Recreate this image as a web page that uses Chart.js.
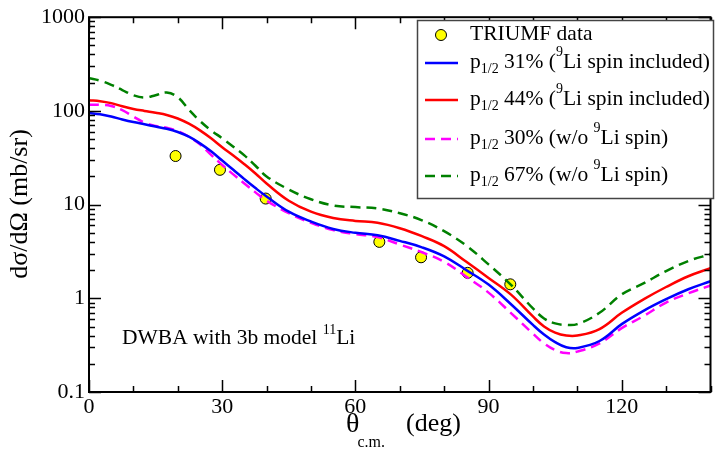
<!DOCTYPE html>
<html>
<head>
<meta charset="utf-8">
<script src="https://cdn.jsdelivr.net/npm/chart.js@4"></script>
<style>
  body { margin: 0; background: #fff; }
  #wrap { width: 717px; height: 450px; }
</style>
</head>
<body>
<div id="wrap"><canvas id="xsChart" width="717" height="450"></canvas></div>
<script>
// scattering angle (deg) shared by all the calculated curves
const angles = [0, 2.5, 5, 7.5, 10, 12.5, 15, 17.5, 20, 22.5, 25, 27.5, 30, 32.5, 35, 37.5, 40,
  45, 50, 55, 60, 65, 70, 75, 80, 85, 90, 95, 100, 102.5, 105, 107.5, 110, 115, 120, 125, 130, 135, 140];

// cross sections (mb/sr)
const p31spin = [95, 92, 87, 81, 76, 72, 68, 64.5, 59.5, 53, 45, 37, 29.5, 23.5, 18.7, 15, 12.2,
  8.4, 6.6, 5.5, 5.0, 4.7, 4.1, 3.5, 2.8, 2.0, 1.4, 0.87, 0.52, 0.41, 0.34, 0.30, 0.295, 0.35, 0.53, 0.74, 0.98, 1.25, 1.52];
const p44spin = [130, 127, 121, 112, 105, 100, 95.5, 90.5, 83, 73, 62, 51, 41, 33.5, 27, 21.5, 16.8,
  11, 8.4, 7.2, 6.7, 6.4, 5.6, 4.6, 3.6, 2.45, 1.65, 1.1, 0.64, 0.5, 0.43, 0.40, 0.40, 0.47, 0.7, 0.98, 1.32, 1.72, 2.1];
const p30nospin = [116, 116, 113, 102, 87, 75, 69, 66, 61, 53, 44, 34, 26.5, 21, 16.8, 13.5, 11,
  8.1, 6.4, 5.35, 4.85, 4.5, 3.75, 3.1, 2.45, 1.7, 1.15, 0.7, 0.42, 0.33, 0.28, 0.26, 0.27, 0.33, 0.48, 0.65, 0.9, 1.13, 1.37];
const p67nospin = [223, 210, 190, 167, 147, 139, 147, 157, 140, 103, 78, 62, 51, 41.5, 33.5, 26, 20,
  14.5, 11.4, 9.8, 9.4, 9.1, 8.1, 6.8, 5.2, 3.65, 2.3, 1.4, 0.78, 0.61, 0.54, 0.52, 0.53, 0.7, 1.1, 1.45, 1.95, 2.5, 2.95];

// TRIUMF data
const dataTheta = [19.5, 29.5, 39.8, 65.4, 74.8, 85.3, 94.9];
const dataXs = [33, 23.5, 11.6, 4.0, 2.74, 1.87, 1.41];

const xTicks = [0, 30, 60, 90, 120];
const yTicks = [0.1, 1, 10, 100, 1000];

const serif = '"Liberation Serif", "DejaVu Serif", serif';

function pts(xs, ys) {
  return xs.map((x, i) => ({ x: x, y: ys[i] }));
}

function curve(label, values, color, dash) {
  return {
    label: label,
    data: pts(angles, values),
    borderColor: color,
    backgroundColor: color,
    borderWidth: 2.5,
    borderDash: dash,
    pointRadius: 0,
    tension: 0.4,
    fill: false,
    order: 1
  };
}

// draws text pieces with sub/superscripts, returns end x
function richText(ctx, x, y, parts, size) {
  const small = Math.round(size * 0.66);
  parts.forEach(p => {
    let fs = size, dy = 0;
    if (p.sub) { fs = small; dy = size * 0.35; }
    if (p.sup) { fs = small; dy = -size * 0.45; }
    ctx.font = fs + 'px ' + serif;
    ctx.fillText(p.t, x, y + dy);
    x += ctx.measureText(p.t).width;
  });
  return x;
}

const frame = {
  id: 'frame',
  afterDraw(chart) {
    const ctx = chart.ctx;
    const a = chart.chartArea;
    const xs = chart.scales.x, ys = chart.scales.y;
    ctx.save();
    ctx.strokeStyle = '#000';
    ctx.fillStyle = '#000';

    // minor / major ticks on all four sides
    ctx.lineWidth = 1.5;
    ctx.beginPath();
    for (let v = 0; v <= 140; v += 10) {
      const px = Math.round(xs.getPixelForValue(v)) + 0.5;
      const len = v % 30 === 0 ? 12 : 6;
      ctx.moveTo(px, a.bottom); ctx.lineTo(px, a.bottom - len);
      ctx.moveTo(px, a.top); ctx.lineTo(px, a.top + len);
    }
    for (let d = -1; d <= 3; d++) {
      for (let m = 1; m <= 9; m++) {
        if (d === 3 && m > 1) break;
        const py = Math.round(ys.getPixelForValue(m * Math.pow(10, d))) + 0.5;
        const len = m === 1 ? 12 : 6;
        ctx.moveTo(a.left, py); ctx.lineTo(a.left + len, py);
        ctx.moveTo(a.right, py); ctx.lineTo(a.right - len, py);
      }
    }
    ctx.stroke();

    ctx.lineWidth = 2;
    ctx.strokeRect(a.left, a.top, a.right - a.left, a.bottom - a.top);

    // legend
    const lx = 417, ly = 20, lw = 296, lh = 178;
    ctx.fillStyle = '#fff';
    ctx.fillRect(lx, ly, lw, lh);
    ctx.lineWidth = 1.5;
    ctx.strokeStyle = '#444';
    ctx.strokeRect(lx + 0.5, ly + 0.5, lw, lh);

    const rows = [
      { y: 35, parts: [{ t: 'TRIUMF data' }] },
      { y: 63, parts: [{ t: 'p' }, { t: '1/2', sub: true }, { t: ' 31% (' }, { t: '9', sup: true }, { t: 'Li spin included)' }] },
      { y: 100, parts: [{ t: 'p' }, { t: '1/2', sub: true }, { t: ' 44% (' }, { t: '9', sup: true }, { t: 'Li spin included)' }] },
      { y: 139, parts: [{ t: 'p' }, { t: '1/2', sub: true }, { t: ' 30% (w/o ' }, { t: '9', sup: true }, { t: 'Li spin)' }] },
      { y: 176, parts: [{ t: 'p' }, { t: '1/2', sub: true }, { t: ' 67% (w/o ' }, { t: '9', sup: true }, { t: 'Li spin)' }] }
    ];
    const sets = chart.data.datasets;
    ctx.textBaseline = 'middle';
    ctx.textAlign = 'left';
    rows.forEach((r, i) => {
      const ds = sets[i];
      if (i === 0) {
        ctx.beginPath();
        ctx.arc(441, r.y, 5.5, 0, Math.PI * 2);
        ctx.fillStyle = ds.backgroundColor;
        ctx.fill();
        ctx.lineWidth = 1;
        ctx.strokeStyle = '#000';
        ctx.stroke();
      } else {
        ctx.beginPath();
        ctx.setLineDash(ds.borderDash || []);
        ctx.lineWidth = 2.5;
        ctx.strokeStyle = ds.borderColor;
        ctx.moveTo(425, r.y); ctx.lineTo(458, r.y);
        ctx.stroke();
        ctx.setLineDash([]);
      }
      ctx.fillStyle = '#000';
      richText(ctx, 470, r.y - 1, r.parts, 21.5);
    });

    // annotation
    ctx.textBaseline = 'alphabetic';
    richText(ctx, 122, 344, [{ t: 'DWBA with 3b model ' }, { t: '11', sup: true }, { t: 'Li' }], 21.5);

    // axis titles
    let x = richText(ctx, 346, 432, [{ t: 'θ' }], 28);
    ctx.font = '16px ' + serif;
    ctx.fillText('c.m.', x - 2, 447);
    ctx.font = '26px ' + serif;
    ctx.fillText('(deg)', 406, 431);

    ctx.translate(27, 204);
    ctx.rotate(-Math.PI / 2);
    ctx.textAlign = 'center';
    ctx.font = '26px ' + serif;
    ctx.fillText('dσ/dΩ (mb/sr)', 0, 0);
    ctx.restore();
  }
};

new Chart(document.getElementById('xsChart'), {
  type: 'line',
  data: {
    datasets: [
      {
        label: 'TRIUMF data',
        data: pts(dataTheta, dataXs),
        showLine: false,
        pointRadius: 5.5,
        pointBorderWidth: 1,
        pointBackgroundColor: '#ffff00',
        pointBorderColor: '#000',
        backgroundColor: '#ffff00',
        borderColor: '#000',
        order: 5
      },
      curve('p1/2 31% (9Li spin included)', p31spin, '#0000ff', []),
      curve('p1/2 44% (9Li spin included)', p44spin, '#ff0000', []),
      curve('p1/2 30% (w/o 9Li spin)', p30nospin, '#ff00ff', [10, 6]),
      curve('p1/2 67% (w/o 9Li spin)', p67nospin, '#008000', [10, 6])
    ]
  },
  options: {
    responsive: false,
    animation: false,
    devicePixelRatio: 1,
    layout: { padding: { top: 14, right: 1, left: 0, bottom: 0 } },
    plugins: { legend: { display: false }, tooltip: { enabled: false } },
    scales: {
      x: {
        type: 'linear',
        min: 0,
        max: 140,
        afterBuildTicks: s => { s.ticks = xTicks.map(v => ({ value: v })); },
        afterFit: s => { s.height = 58; },
        grid: { display: false, drawTicks: false },
        border: { display: false },
        ticks: { color: '#000', padding: 2, maxRotation: 0, font: { family: serif, size: 22 } }
      },
      y: {
        type: 'logarithmic',
        min: 0.1,
        max: 1000,
        afterBuildTicks: s => { s.ticks = yTicks.map(v => ({ value: v })); },
        afterFit: s => { s.width = 89; },
        grid: { display: false, drawTicks: false },
        border: { display: false },
        ticks: { color: '#000', padding: 4, font: { family: serif, size: 22 }, callback: v => String(v) }
      }
    }
  },
  plugins: [frame]
});
</script>
</body>
</html>
